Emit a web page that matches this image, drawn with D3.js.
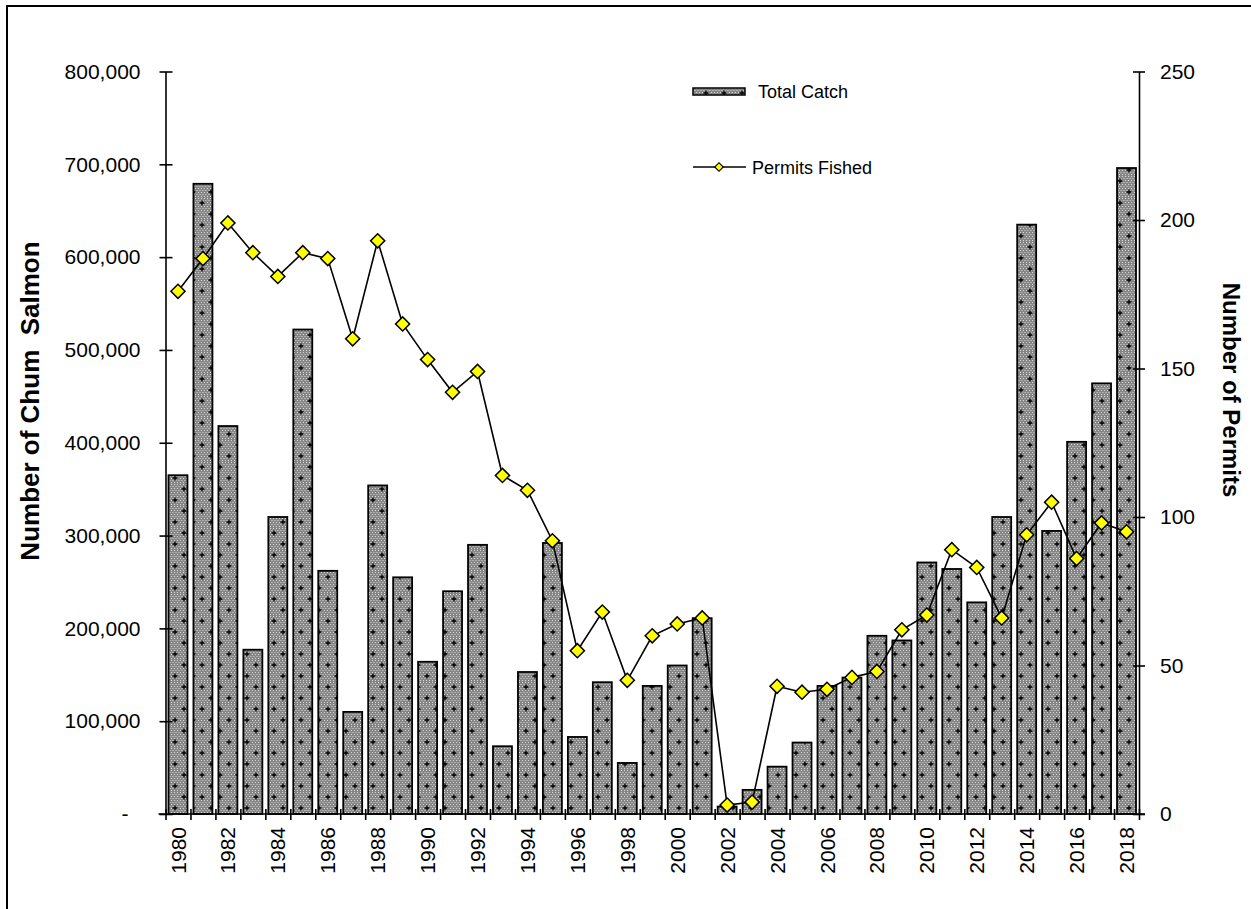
<!DOCTYPE html>
<html>
<head>
<meta charset="utf-8">
<script src="https://cdn.jsdelivr.net/npm/d3@7"></script>
<style>
  body { margin: 0; background: #fff; }
  svg { display: block; font-family: "Liberation Sans", Arial, sans-serif; }
  .axis path, .axis line { stroke: #000; stroke-width: 1.6px; }
  .axis text { fill: #000; font-size: 21px; }
  .title { font-weight: bold; white-space: pre; }
</style>
</head>
<body>
<div id="chart"></div>
<script>
// data
const years = d3.range(1980, 2019);
const totalCatch = [365000, 679000, 418000, 177000, 320000, 522000, 262000, 110000, 354000, 255000,
    164000, 240000, 290000, 73000, 153000, 292000, 83000, 142000, 55000, 138000,
    160000, 211000, 8000, 26000, 51000, 77000, 138000, 147000, 192000, 187000,
    271000, 264000, 228000, 320000, 635000, 305000, 401000, 464000, 696000];
const permits = [176, 187, 199, 189, 181, 189, 187, 160, 193, 165,
    153, 142, 149, 114, 109, 92, 55, 68, 45, 60,
    64, 66, 3, 4, 43, 41, 42, 46, 48, 62,
    67, 89, 83, 66, 94, 105, 86, 98, 95];
const leftTicks = [0, 100000, 200000, 300000, 400000, 500000, 600000, 700000, 800000];
const rightTicks = [0, 50, 100, 150, 200, 250];
const labelYears = years.filter(y => y % 2 === 0);

const rows = years.map((y, i) => ({ year: y, catch: totalCatch[i], permits: permits[i] }));

const W = 1251, H = 909;
const plot = { left: 165.5, right: 1139, top: 71.5, bottom: 814 };

const svg = d3.select("#chart").append("svg")
    .attr("width", W)
    .attr("height", H);

// outer frame (runs off the right and bottom edges)
svg.append("rect")
    .attr("x", 7).attr("y", 6)
    .attr("width", 1400).attr("height", 1000)
    .attr("fill", "none")
    .attr("stroke", "#000")
    .attr("stroke-width", 2);

// bar fill pattern: dotted grey with small plus marks
const defs = svg.append("defs");
const dots = defs.append("pattern")
    .attr("id", "dots")
    .attr("patternUnits", "userSpaceOnUse")
    .attr("width", 18).attr("height", 22);
dots.append("rect").attr("width", 18).attr("height", 22).attr("fill", "#858585");
for (let px = 0; px < 18; px += 3) {
    for (let py = 0; py < 22; py += 2) {
        dots.append("rect")
            .attr("x", px + (py % 4 === 0 ? 0 : 1.5)).attr("y", py)
            .attr("width", 1).attr("height", 1)
            .attr("fill", "#dcdcdc");
    }
}
[[4, 5], [13, 16]].forEach(([cx, cy]) => {
    dots.append("path")
        .attr("d", `M${cx - 2.5},${cy}H${cx + 2.5}M${cx},${cy - 2.5}V${cy + 2.5}`)
        .attr("stroke", "#000")
        .attr("stroke-width", 1.3);
});

// scales
const x = d3.scaleBand()
    .domain(years)
    .range([plot.left, plot.right])
    .paddingInner(0.24)
    .paddingOuter(0.12);

const xEdge = d3.scaleLinear()
    .domain([0, years.length])
    .range([plot.left, plot.right]);

const yLeft = d3.scaleLinear()
    .domain([0, 800000])
    .range([plot.bottom, plot.top]);

const yRight = d3.scaleLinear()
    .domain([0, 250])
    .range([plot.bottom, plot.top]);

// bars
svg.selectAll(".bar")
    .data(rows)
    .enter().append("rect")
    .attr("class", "bar")
    .attr("x", d => x(d.year))
    .attr("y", d => yLeft(d.catch))
    .attr("width", x.bandwidth())
    .attr("height", d => yLeft(0) - yLeft(d.catch))
    .attr("fill", "url(#dots)")
    .attr("stroke", "#000")
    .attr("stroke-width", 1.8);

// left axis
const fmt = d3.format(",");
const gLeft = svg.append("g")
    .attr("class", "axis")
    .attr("transform", `translate(${plot.left},0)`)
    .call(d3.axisLeft(yLeft)
        .tickValues(leftTicks)
        .tickSizeInner(6)
        .tickSizeOuter(0)
        .tickPadding(19)
        .tickFormat(d => d === 0 ? "-" : fmt(d)));
gLeft.selectAll(".tick line").attr("x1", 7);
gLeft.selectAll(".tick text").filter(d => d === 0).attr("x", -37);

// right axis
const gRight = svg.append("g")
    .attr("class", "axis")
    .attr("transform", `translate(${plot.right},0)`)
    .call(d3.axisRight(yRight)
        .tickValues(rightTicks)
        .tickSizeInner(6)
        .tickSizeOuter(0)
        .tickPadding(15));
gRight.selectAll(".tick line").attr("x1", -6);

// bottom axis: tick marks at the category edges
const gEdge = svg.append("g")
    .attr("class", "axis")
    .attr("transform", `translate(0,${plot.bottom})`)
    .call(d3.axisBottom(xEdge)
        .tickValues(d3.range(0, years.length + 1))
        .tickSizeInner(6)
        .tickSizeOuter(0)
        .tickFormat(""));
gEdge.selectAll(".tick line").attr("y1", -5);
gEdge.select(".domain").attr("d", `M${plot.left - 7},0H${plot.right + 6}`);

// year labels
const gYears = svg.append("g")
    .attr("class", "axis")
    .attr("transform", `translate(0,${plot.bottom})`)
    .call(d3.axisBottom(x)
        .tickValues(labelYears)
        .tickSize(0)
        .tickPadding(0));
gYears.select(".domain").remove();
gYears.selectAll(".tick text")
    .attr("transform", "rotate(-90)")
    .attr("text-anchor", "end")
    .attr("x", -13)
    .attr("y", 0)
    .attr("dy", "0.36em");

// permits line
const line = d3.line()
    .x(d => x(d.year) + x.bandwidth() / 2)
    .y(d => yRight(d.permits));

svg.append("path")
    .datum(rows)
    .attr("fill", "none")
    .attr("stroke", "#000")
    .attr("stroke-width", 1.6)
    .attr("d", line);

const diamond = d3.symbol().type(d3.symbolSquare).size(100);
svg.selectAll(".pt")
    .data(rows)
    .enter().append("path")
    .attr("class", "pt")
    .attr("d", diamond)
    .attr("transform", d => `translate(${x(d.year) + x.bandwidth() / 2},${yRight(d.permits)}) rotate(45)`)
    .attr("fill", "#ffff00")
    .attr("stroke", "#000")
    .attr("stroke-width", 1.5);

// axis titles
svg.append("text")
    .attr("class", "title")
    .attr("transform", "translate(39,401) rotate(-90)")
    .attr("text-anchor", "middle")
    .style("font-size", "26px")
    .text("Number of Chum  Salmon");

svg.append("text")
    .attr("class", "title")
    .attr("transform", "translate(1223,390) rotate(90)")
    .attr("text-anchor", "middle")
    .style("font-size", "24px")
    .text("Number of Permits");

// legend
const legend = svg.append("g");
legend.append("rect")
    .attr("x", 693).attr("y", 88)
    .attr("width", 52).attr("height", 7)
    .attr("fill", "url(#dots)")
    .attr("stroke", "#000")
    .attr("stroke-width", 1.5);
legend.append("text")
    .attr("x", 758).attr("y", 98)
    .style("font-size", "18px")
    .text("Total Catch");

legend.append("line")
    .attr("x1", 693).attr("x2", 746)
    .attr("y1", 167).attr("y2", 167)
    .attr("stroke", "#000")
    .attr("stroke-width", 1.6);
legend.append("path")
    .attr("d", d3.symbol().type(d3.symbolSquare).size(36))
    .attr("transform", "translate(719,167) rotate(45)")
    .attr("fill", "#ffff00")
    .attr("stroke", "#000")
    .attr("stroke-width", 1.2);
legend.append("text")
    .attr("x", 752).attr("y", 174)
    .style("font-size", "18px")
    .text("Permits Fished");
</script>
</body>
</html>
